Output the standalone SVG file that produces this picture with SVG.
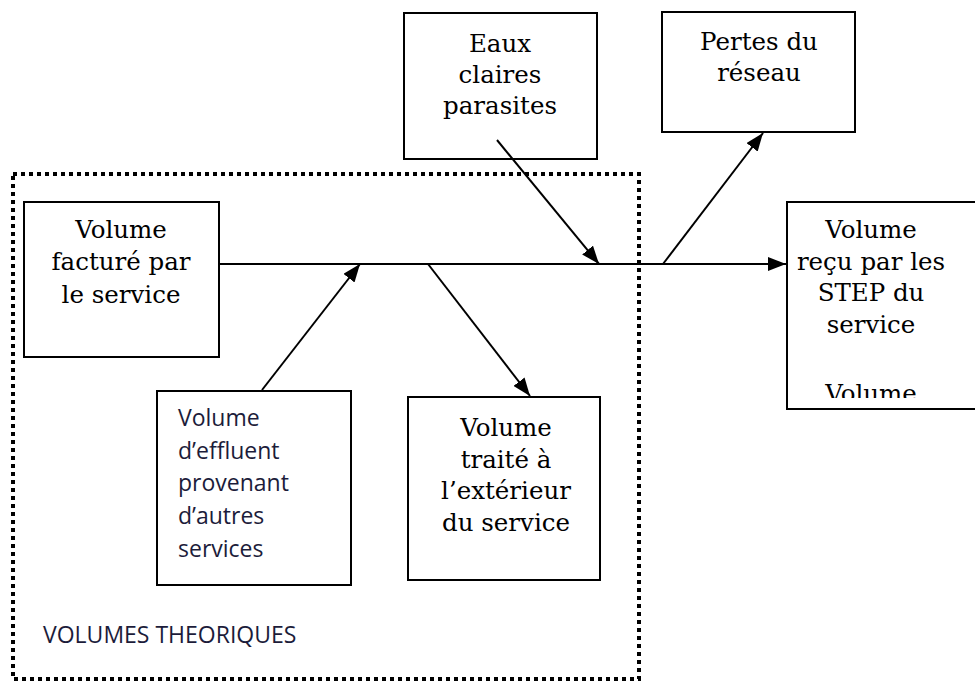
<svg xmlns="http://www.w3.org/2000/svg" width="975" height="682" viewBox="0 0 975 682">
<style>
.box{fill:#fff;stroke:#000;stroke-width:2}
.serif{font-family:"DejaVu Serif","Liberation Serif",serif;font-size:24.5px;fill:#000;text-anchor:middle}
.sans{font-family:"Open Sans","Liberation Sans",sans-serif;font-size:23px;fill:#1c1c3a}
.conn{stroke:#000;stroke-width:2;fill:none;marker-end:url(#arr)}
</style>
<defs>
<marker id="arr" viewBox="0 0 18 14" refX="18" refY="7" markerWidth="18" markerHeight="14" markerUnits="userSpaceOnUse" orient="auto">
<path d="M0,0 L18,7 L0,14 z" fill="#000"/>
</marker>
<clipPath id="clipRecu"><rect x="787" y="202" width="200" height="196"/></clipPath>
</defs>
<rect width="975" height="682" fill="#fff"/>
<g id="volumes-theoriques">
<rect x="13" y="174" width="626" height="505" fill="none" stroke="#000" stroke-width="4" stroke-dasharray="4 4"/>
<text class="sans" x="43" y="643" font-size="22">VOLUMES THEORIQUES</text>
</g>
<g id="node-facture">
<rect class="box" x="24" y="202" width="195" height="155"/>
<text class="serif" x="121" y="238">Volume</text>
<text class="serif" x="121" y="270">facturé par</text>
<text class="serif" x="121" y="303">le service</text>
</g>
<g id="node-eaux">
<rect class="box" x="404" y="13" width="193" height="146"/>
<text class="serif" x="500" y="52">Eaux</text>
<text class="serif" x="500" y="83">claires</text>
<text class="serif" x="500" y="114">parasites</text>
</g>
<g id="node-pertes">
<rect class="box" x="662" y="12" width="193" height="120"/>
<text class="serif" x="759" y="50">Pertes du</text>
<text class="serif" x="759" y="81">réseau</text>
</g>
<g id="node-recu">
<rect class="box" x="787" y="202" width="200" height="207"/>
<g clip-path="url(#clipRecu)">
<text class="serif" x="871" y="238">Volume</text>
<text class="serif" x="871" y="270">reçu par les</text>
<text class="serif" x="871" y="301">STEP du</text>
<text class="serif" x="871" y="333">service</text>
<text class="serif" x="871" y="402">Volume</text>
</g>
</g>
<g id="node-effluent">
<rect class="box" x="157" y="391" width="194" height="194"/>
<text class="sans" x="178" y="426">Volume</text>
<text class="sans" x="178" y="459">d’effluent</text>
<text class="sans" x="178" y="491">provenant</text>
<text class="sans" x="178" y="524">d’autres</text>
<text class="sans" x="178" y="557">services</text>
</g>
<g id="node-traite">
<rect class="box" x="408" y="397" width="192" height="183"/>
<text class="serif" x="506" y="436">Volume</text>
<text class="serif" x="506" y="468">traité à</text>
<text class="serif" x="506" y="499">l’extérieur</text>
<text class="serif" x="506" y="531">du service</text>
</g>
<g id="connectors">
<line class="conn" x1="219" y1="264" x2="786" y2="264"/>
<line class="conn" x1="497" y1="140" x2="599" y2="264"/>
<line class="conn" x1="262" y1="390" x2="360" y2="264"/>
<line class="conn" x1="428" y1="264" x2="530" y2="396"/>
<line class="conn" x1="663" y1="264" x2="763" y2="133"/>
</g>
</svg>
